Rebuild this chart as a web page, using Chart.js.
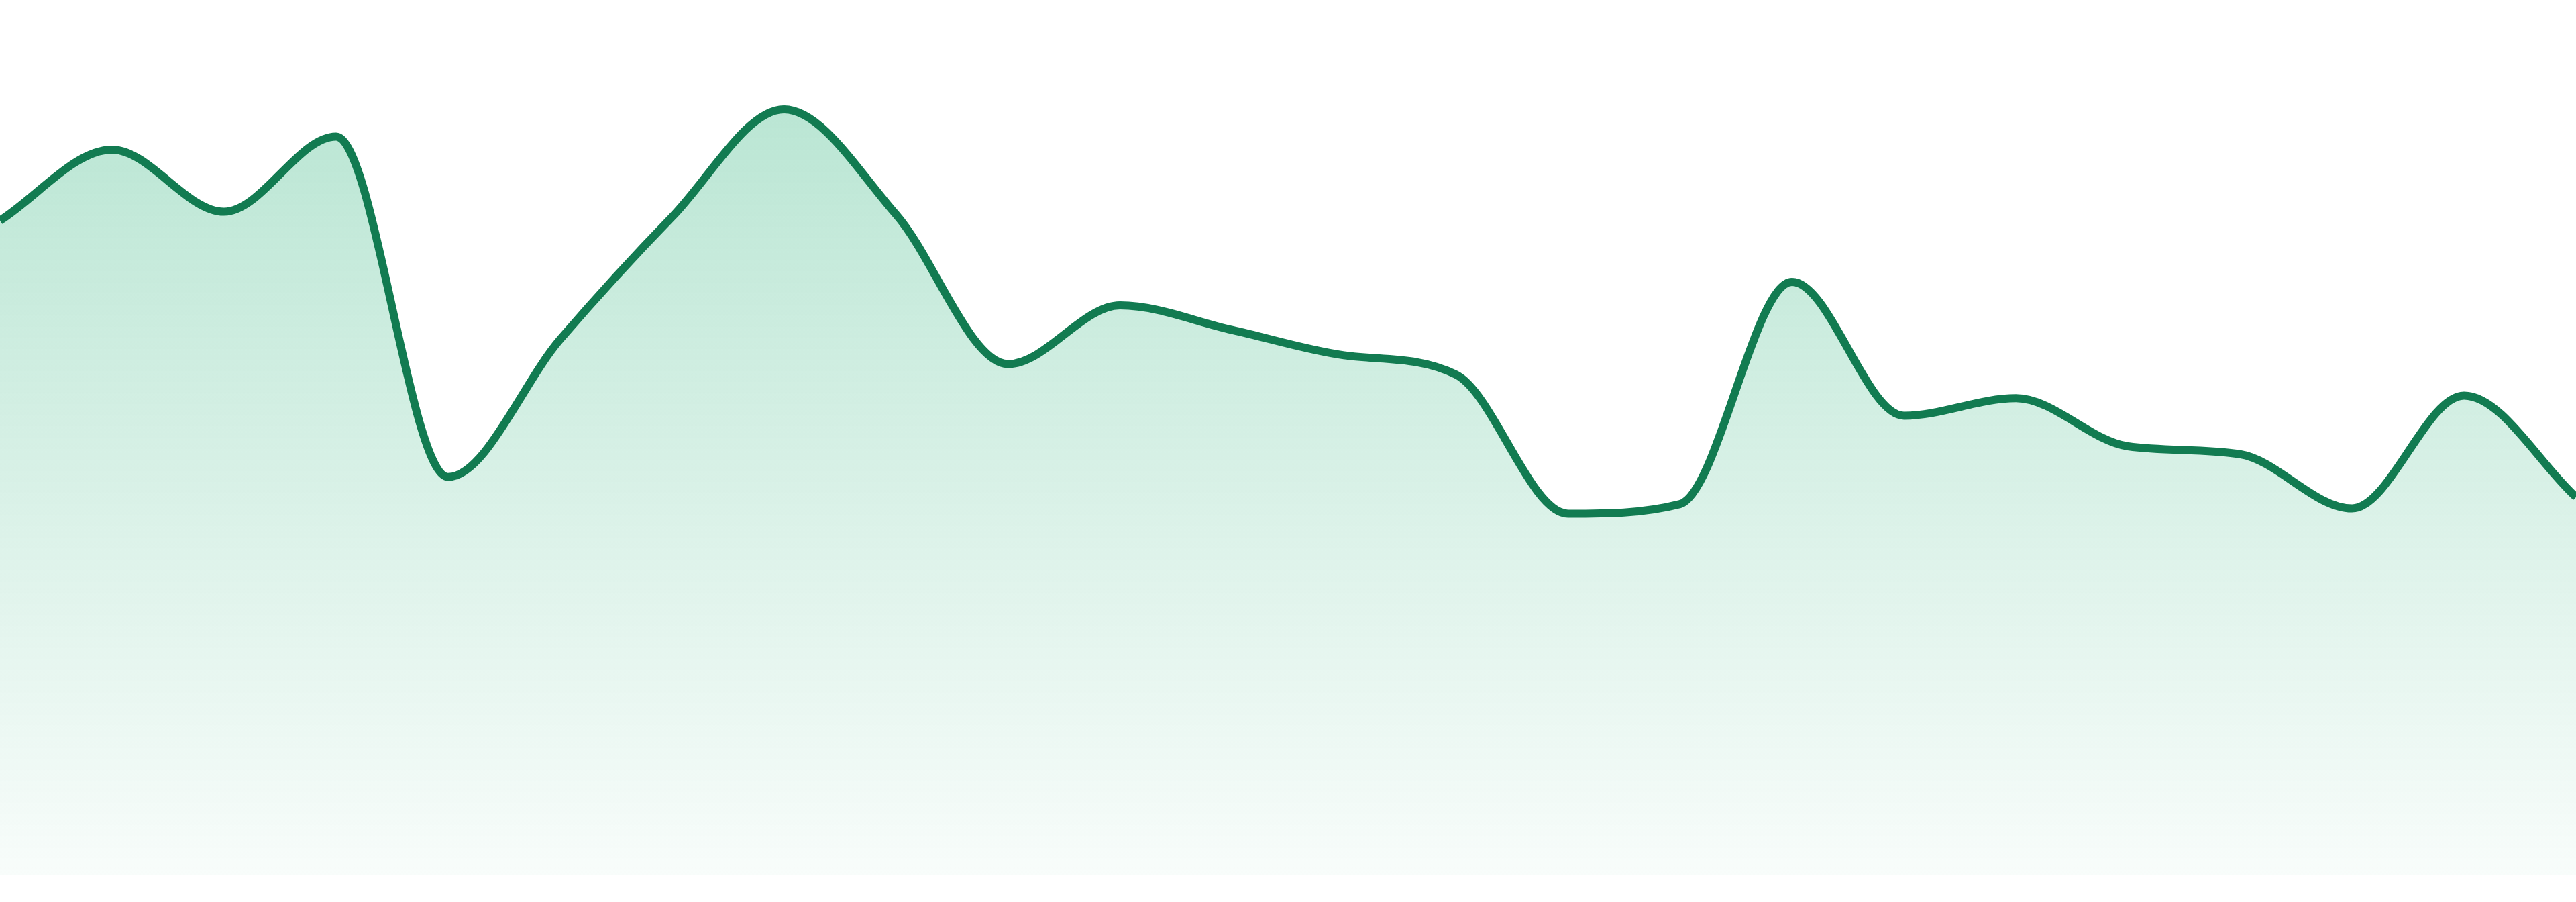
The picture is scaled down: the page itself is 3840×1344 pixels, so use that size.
<!DOCTYPE html>
<html>
<head>
<meta charset="utf-8">
<script src="https://cdn.jsdelivr.net/npm/chart.js@4.4.1/dist/chart.umd.min.js"></script>
<style>
  html, body { margin: 0; padding: 0; background: #ffffff; }
  #wrap { width: 3840px; height: 1344px; position: relative; }
</style>
</head>
<body>
<div id="wrap"><canvas id="chart"></canvas></div>
<script>
// hourly readings, one point per slot
const labels = [
  "00", "01", "02", "03", "04", "05", "06", "07", "08", "09", "10", "11",
  "12", "13", "14", "15", "16", "17", "18", "19", "20", "21", "22", "23",
];
const values = [
  74.8, 82.9, 75.8, 84.4, 45.5, 61.2, 75.2, 87.5, 75.5, 58.4, 65.1, 62.3,
  59.4, 57.2, 41.3, 42.4, 67.8, 52.5, 54.5, 49.0, 48.1, 41.9, 54.8, 43.2,
];
const yMin = 0;
const yMax = 100;

const lineColor = "#127b51";

function areaFill(context) {
  const chart = context.chart;
  const area = chart.chartArea;
  if (!area) return "rgba(28,172,112,0.3)";
  const g = chart.ctx.createLinearGradient(0, area.top, 0, area.bottom);
  g.addColorStop(0, "rgba(28,172,112,0.34)");
  g.addColorStop(1, "rgba(28,172,112,0.03)");
  return g;
}

const ctx = document.getElementById("chart");

new Chart(ctx, {
  type: "line",
  data: {
    labels: labels,
    datasets: [
      {
        label: "Value",
        data: values,
        borderColor: lineColor,
        borderWidth: 12,
        backgroundColor: areaFill,
        fill: "start",
        cubicInterpolationMode: "monotone",
        pointRadius: 0,
      },
    ],
  },
  options: {
    responsive: true,
    maintainAspectRatio: false,
    animation: false,
    layout: {
      padding: { top: 0, right: 0, bottom: 40, left: 0 },
    },
    plugins: {
      legend: { display: false },
      tooltip: { enabled: false },
    },
    scales: {
      x: { display: false },
      y: { display: false, min: yMin, max: yMax },
    },
  },
});
</script>
</body>
</html>
